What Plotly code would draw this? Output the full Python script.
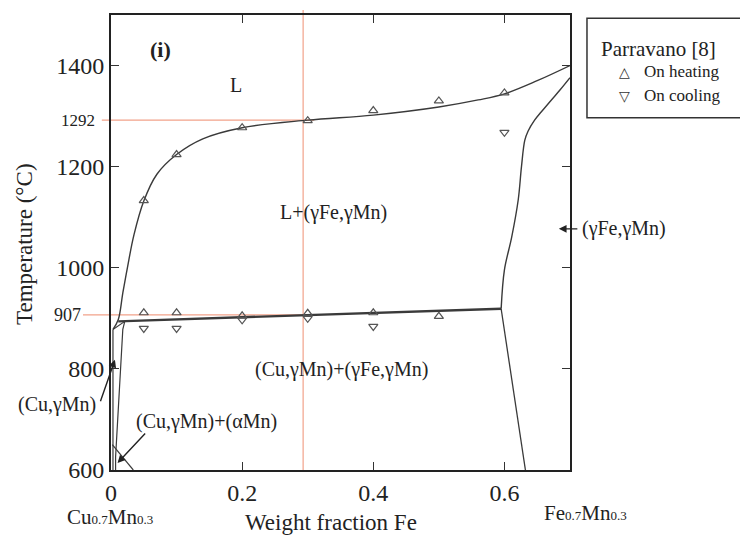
import plotly.graph_objects as go

# ---------------- data ----------------
liq_x = [0.003, 0.011, 0.018, 0.025, 0.035, 0.05, 0.07, 0.1, 0.14, 0.2, 0.3, 0.4, 0.5, 0.56, 0.6, 0.65, 0.7]
liq_T = [878, 897, 950, 1000, 1065, 1132, 1185, 1224, 1255, 1277, 1292, 1302, 1318, 1332, 1344, 1370, 1400]

gam_x = [0.7, 0.685, 0.671, 0.656, 0.646, 0.636, 0.631, 0.626, 0.621, 0.611, 0.600, 0.595]
gam_T = [1376, 1352, 1331, 1308, 1292, 1270, 1252, 1200, 1134, 1060, 996, 919]

low_x = [0.595, 0.632]
low_T = [919, 600]

peri_x = [0.011, 0.3, 0.595]
peri_T = [894, 907, 919]

wedge_x = [0.003, 0.021]
wedge_T = [878, 894]

solv_x = [0.021, 0.018, 0.007, 0.007]
solv_T = [894, 878, 626, 600]

axis_x = [0.003, 0.003]
axis_T = [878, 600]

amn_x = [0.002, 0.034]
amn_T = [650, 600]

heat_x = [0.05, 0.1, 0.2, 0.3, 0.4, 0.5, 0.6, 0.05, 0.1, 0.2, 0.3, 0.4, 0.5]
heat_T = [1133, 1224, 1277, 1291, 1311, 1330, 1346, 911, 911, 905, 910, 911, 904]

cool_x = [0.05, 0.1, 0.2, 0.3, 0.4, 0.6]
cool_T = [880, 880, 897, 900, 884, 1268]

y_ticks = [600, 800, 1000, 1200, 1400]
x_ticks = [0, 0.2, 0.4, 0.6]
x_ticktext = ["0", "0.2", "0.4", "0.6"]
ref_T = [1292, 907]
ref_x = 0.293

X_RANGE = [0, 0.7]
Y_RANGE = [600, 1500]

FONT = "Liberation Serif, Times New Roman, serif"
LINE = "#3a3a3a"
ORANGE = "#f2a28a"


def px(v):
    return (v - X_RANGE[0]) / (X_RANGE[1] - X_RANGE[0])


def py(v):
    return (v - Y_RANGE[0]) / (Y_RANGE[1] - Y_RANGE[0])


fig = go.Figure()


def add_line(xs, ys, width=1.3, shape="linear"):
    fig.add_trace(go.Scatter(x=xs, y=ys, mode="lines",
                             line=dict(color=LINE, width=width, shape=shape),
                             showlegend=False, hoverinfo="skip"))


add_line(liq_x, liq_T, 1.4, "spline")
add_line(gam_x, gam_T, 1.4, "spline")
add_line(low_x, low_T, 1.3)
add_line(peri_x, peri_T, 2.4)
add_line(wedge_x, wedge_T, 1.1)
add_line(solv_x, solv_T, 1.2)
add_line(axis_x, axis_T, 1.2)
add_line(amn_x, amn_T, 1.2)

fig.add_trace(go.Scatter(x=heat_x, y=heat_T, mode="markers",
                         marker=dict(symbol="triangle-up-open", size=8,
                                     color="#555", line=dict(width=1.2, color="#555")),
                         showlegend=False, cliponaxis=False))
fig.add_trace(go.Scatter(x=cool_x, y=cool_T, mode="markers",
                         marker=dict(symbol="triangle-down-open", size=8,
                                     color="#555", line=dict(width=1.2, color="#555")),
                         showlegend=False, cliponaxis=False))

shapes = []
# reference lines (orange)
shapes.append(dict(type="line", xref="paper", yref="paper",
                   x0=px(ref_x), x1=px(ref_x), y0=0, y1=1.011,
                   line=dict(color=ORANGE, width=1.2), layer="below"))
shapes.append(dict(type="line", xref="paper", yref="paper",
                   x0=-0.02, x1=px(0.31), y0=py(ref_T[0]), y1=py(ref_T[0]),
                   line=dict(color=ORANGE, width=1.2), layer="below"))
shapes.append(dict(type="line", xref="paper", yref="paper",
                   x0=-0.061, x1=px(0.31), y0=py(ref_T[1]), y1=py(ref_T[1]),
                   line=dict(color=ORANGE, width=1.2), layer="below"))
# legend box
shapes.append(dict(type="rect", xref="paper", yref="paper",
                   x0=1.037, x1=1.40, y0=0.774, y1=0.993,
                   line=dict(color="#333", width=1.5)))

ann = []


def text(x, y, s, size=20, xref="x", yref="y", **kw):
    d = dict(x=x, y=y, xref=xref, yref=yref, text=s, showarrow=False,
             xanchor="center", yanchor="middle",
             font=dict(family=FONT, size=size, color="#222"))
    d.update(kw)
    ann.append(d)


text(0.075, 1432, "<b>(i)</b>", size=22)
text(0.19, 1362, "L")
text(0.339, 1110, "L+(γFe,γMn)")
text(0.351, 799, "(Cu,γMn)+(γFe,γMn)")
text(0.146, 695, "(Cu,γMn)+(αMn)")
text(-0.118, 0.143, "(Cu,γMn)", xref="paper", yref="paper")
text(1.022, py(1077), "(γFe,γMn)", xref="paper", yref="paper", xanchor="left")

# reference tick labels
text(-0.031, py(ref_T[0]), str(ref_T[0]), size=17, xref="paper", yref="paper", xanchor="right")
text(-0.062, py(ref_T[1]), str(ref_T[1]), size=18, xref="paper", yref="paper", xanchor="right")

# composition end labels
sub = "<span style='font-size:13px'>%s</span>"
text(-0.002, -0.103, "Cu" + sub % "0.7" + "Mn" + sub % "0.3", size=21, xref="paper", yref="paper")
text(1.033, -0.095, "Fe" + sub % "0.7" + "Mn" + sub % "0.3", size=21, xref="paper", yref="paper")

# axis titles
text(-0.187, 0.495, "Temperature (°C)", size=23, xref="paper", yref="paper", textangle=-90)
text(0.479, -0.147, "Weight fraction Fe", size=23, xref="paper", yref="paper", yanchor="bottom")

# legend
text(1.192, 0.925, "Parravano [8]", size=21, xref="paper", yref="paper")
text(1.118, 0.875, "△", xref="paper", yref="paper",
     font=dict(family="DejaVu Sans", size=14, color="#333"))
text(1.118, 0.822, "▽", xref="paper", yref="paper",
     font=dict(family="DejaVu Sans", size=14, color="#333"))
text(1.156, 0.875, "On heating", size=17, xref="paper", yref="paper", xanchor="left")
text(1.156, 0.822, "On cooling", size=17, xref="paper", yref="paper", xanchor="left")

# arrows
arrow = dict(showarrow=True, arrowhead=2, arrowsize=1.1, arrowwidth=1.4,
             arrowcolor="#222", text="", xref="x", yref="y")
ann.append(dict(x=0.006, y=818, ax=-15, ay=43, **arrow))
ann.append(dict(x=0.010, y=614, ax=29, ay=-31, **arrow))
ann.append(dict(x=0.683, y=1077, ax=20, ay=0, **arrow))

fig.update_layout(
    width=740, height=537,
    margin=dict(l=111, r=170, t=15, b=67),
    paper_bgcolor="white", plot_bgcolor="white",
    font=dict(family=FONT, size=24, color="#222"),
    shapes=shapes, annotations=ann, showlegend=False,
    xaxis=dict(range=X_RANGE, tickvals=x_ticks, ticktext=x_ticktext,
               ticks="inside", ticklen=8, tickwidth=1.2, tickcolor="#333",
               showline=True, linewidth=2, linecolor="#222", mirror="ticks",
               showgrid=False, zeroline=False, tickfont=dict(size=24)),
    yaxis=dict(range=Y_RANGE, tickvals=y_ticks,
               ticks="inside", ticklen=8, tickwidth=1.2, tickcolor="#333",
               showline=True, linewidth=2, linecolor="#222", mirror="ticks",
               showgrid=False, zeroline=False, tickfont=dict(size=24)),
)

fig.write_html("out.html")
